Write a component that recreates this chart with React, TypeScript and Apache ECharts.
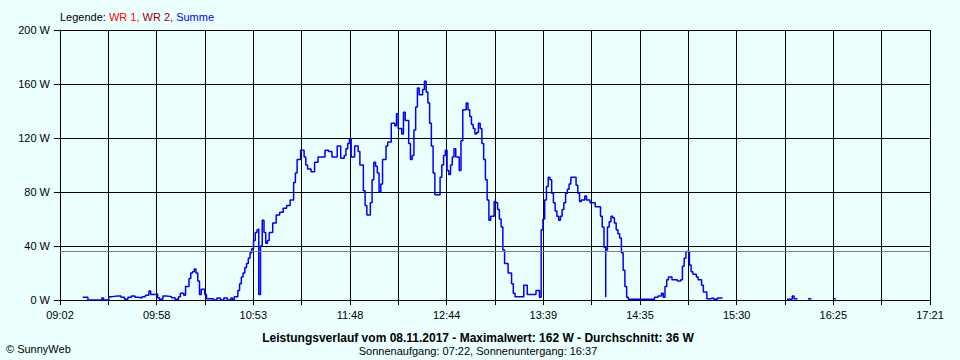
import React, { useEffect, useRef } from "react";
import * as echarts from "echarts";

// ---- data ----
const START_TIME = "09:02";
const END_TIME = "17:21";
const X_TICK_LABELS = ["09:02", "09:58", "10:53", "11:48", "12:44", "13:39", "14:35", "15:30", "16:25", "17:21"];
const Y_MIN = 0;
const Y_MAX = 200;
const Y_STEP = 40;
const AVERAGE_W = 36;
const MAX_W = 162;

const TIMES = [
  "09:15", "09:17", "09:18", "09:26", "09:26", "09:27", "09:29", "09:30", "09:32", "09:35",
  "09:37", "09:39", "09:41", "09:43", "09:45", "09:47", "09:49", "09:51", "09:53", "09:54",
  "09:56", "09:58", "09:59", "10:01", "10:03", "10:06", "10:08", "10:10", "10:11", "10:13",
  "10:14", "10:16", "10:17", "10:18", "10:19", "10:20", "10:21", "10:22", "10:23", "10:25",
  "10:26", "10:28", "10:30", "10:32", "10:34", "10:36", "10:38", "10:40", "10:41", "10:42",
  "10:44", "10:45", "10:46", "10:47", "10:48", "10:49", "10:50", "10:51", "10:52", "10:53",
  "10:54", "10:55", "10:56", "10:56", "10:57", "10:58", "10:59", "11:00", "11:01", "11:02",
  "11:04", "11:06", "11:08", "11:10", "11:12", "11:14", "11:16", "11:17", "11:18", "11:20",
  "11:22", "11:23", "11:24", "11:26", "11:28", "11:30", "11:32", "11:34", "11:36", "11:38",
  "11:41", "11:43", "11:45", "11:46", "11:47", "11:48", "11:49", "11:51", "11:53", "11:54",
  "11:56", "11:57", "11:58", "12:00", "12:01", "12:02", "12:03", "12:04", "12:05", "12:06",
  "12:07", "12:09", "12:10", "12:12", "12:14", "12:15", "12:16", "12:18", "12:19", "12:20",
  "12:22", "12:23", "12:24", "12:25", "12:26", "12:27", "12:28", "12:30", "12:31", "12:32",
  "12:33", "12:34", "12:35", "12:36", "12:37", "12:39", "12:40", "12:41", "12:42", "12:43",
  "12:44", "12:45", "12:46", "12:47", "12:48", "12:49", "12:51", "12:52", "12:53", "12:55",
  "12:56", "12:57", "12:58", "12:59", "13:00", "13:01", "13:02", "13:03", "13:04", "13:05",
  "13:06", "13:07", "13:08", "13:09", "13:11", "13:12", "13:13", "13:14", "13:15", "13:16",
  "13:17", "13:19", "13:21", "13:22", "13:23", "13:27", "13:28", "13:29", "13:30", "13:33",
  "13:35", "13:36", "13:37", "13:38", "13:39", "13:40", "13:41", "13:42", "13:43", "13:44",
  "13:45", "13:46", "13:47", "13:48", "13:49", "13:50", "13:51", "13:52", "13:53", "13:54",
  "13:55", "13:57", "13:58", "13:59", "14:00", "14:01", "14:03", "14:04", "14:06", "14:08",
  "14:09", "14:11", "14:12", "14:13", "14:14", "14:15", "14:15", "14:16", "14:17", "14:18",
  "14:19", "14:20", "14:21", "14:22", "14:23", "14:24", "14:25", "14:26", "14:27", "14:28",
  "14:42", "14:43", "14:45", "14:47", "14:48", "14:49", "14:50", "14:51", "14:53", "14:56",
  "14:58", "14:59", "15:00", "15:01", "15:02", "15:03", "15:04", "15:05", "15:07", "15:08",
  "15:10", "15:11", "15:13", "15:15", "15:17", "15:19", "15:22", "15:22",
  "15:59", "16:01", "16:02", "16:03", "16:05", "16:05",
  "16:11", "16:13", "16:13",
  "16:26", "16:27"
];

const WATTS: (number | null)[] = [
  2, 2, 0, 0, 1.5, 0, 0, 2.5, 3, 3,
  2, 0.5, 2, 3, 2, 1.5, 2.5, 3.5, 6.7, 4,
  4.5, 1.7, 0.5, 3, 2.5, 1.7, 0.5, 2.5, 5, 3.5,
  10, 16, 20, 21, 23, 20, 14, 4, 8, 4,
  1, 1, 0, 1.5, 0, 1.5, 0, 1.5, 0, 2.5,
  7, 12, 17, 20, 24, 27, 31, 35, 38, 44,
  50, 52, 53, 4, 40, 59, 50, 42, 44, 50,
  57, 63, 65, 68, 70, 74, 87, 94, 104, 111,
  106, 100, 97, 95, 102, 106, 106, 111, 110, 106,
  114, 105, 107, 112, 116, 119, 106, 114, 110, 100,
  81, 70, 63, 72, 89, 102, 99, 94, 80, 86,
  104, 114, 117, 131, 129, 138, 127, 123, 139, 133,
  116, 104, 107, 126, 143, 157, 152, 156, 162, 154,
  146, 131, 114, 94, 78, 78, 91, 100, 107, 111,
  96, 93, 100, 106, 112, 106, 96, 118, 141, 146,
  141, 136, 130, 127, 123, 124, 131, 127, 116, 104,
  89, 74, 59, 62, 73, 72, 67, 60, 54, 37,
  27, 20, 12, 5, 2.5, 2.5, 11, 11, 4, 4,
  7, 7, 2, 52, 60, 74, 84, 91, 89, 79,
  72, 66, 62, 59, 62, 67, 72, 79, 82, 86,
  91, 91, 85, 79, 73, 74, 77, 74, 72, 72,
  69, 69, 62, 54, 39, 2, 37, 54, 58, 62,
  61, 57, 52, 49, 46, 35, 22, 10, 2, 0.5,
  0.5, 2, 3, 5, 2, 10, 15, 17, 15, 14,
  15, 25, 31, 36, 36, 26, 21, 19, 17, 15,
  11, 6, 1, 1.5, 0.5, 1.5, 1, null,
  0.5, 0.5, 3, 1, 1, null,
  1, 1, null,
  1, 1
];

const GRID_DIVISIONS = 18;

const toMin = (t: string) => {
  const [h, m] = t.split(":").map(Number);
  return h * 60 + m;
};

export default function App() {
  const ref = useRef<HTMLDivElement>(null);

  useEffect(() => {
    document.body.style.margin = "0";
    if (!ref.current) return;
    const chart = echarts.init(ref.current, null, { renderer: "svg" });
    const t0 = toMin(START_TIME);
    const span = toMin(END_TIME) - t0;
    const data = TIMES.map((t, i) => [
      ((toMin(t) - t0) * GRID_DIVISIONS) / span,
      WATTS[i] === null ? "-" : WATTS[i],
    ]);
    const font = "'Liberation Sans', Arial, sans-serif";

    chart.setOption({
      animation: false,
      backgroundColor: "#EBFFFF",
      grid: { left: 60, right: 30, top: 30, bottom: 60, containLabel: false },
      xAxis: {
        type: "value",
        min: 0,
        max: GRID_DIVISIONS,
        interval: 1,
        axisLine: { show: true, lineStyle: { color: "#000", width: 1 } },
        axisTick: { show: true, length: 5, lineStyle: { color: "#000", width: 1 } },
        splitLine: { show: true, lineStyle: { color: "#000", width: 1 } },
        axisLabel: {
          color: "#000",
          fontSize: 11,
          fontFamily: font,
          margin: 9,
          showMinLabel: true,
          showMaxLabel: true,
          formatter: (v: number) => {
            const i = Math.round(v);
            return i % 2 === 0 ? X_TICK_LABELS[i / 2] : "";
          },
        },
      },
      yAxis: {
        type: "value",
        min: Y_MIN,
        max: Y_MAX,
        interval: Y_STEP,
        axisLine: { show: true, lineStyle: { color: "#000", width: 1 } },
        axisTick: { show: true, length: 6, lineStyle: { color: "#000", width: 1 } },
        splitLine: { show: true, lineStyle: { color: "#000", width: 1 } },
        axisLabel: {
          color: "#000",
          fontSize: 11,
          fontFamily: font,
          margin: 10,
          formatter: "{value} W",
        },
      },
      series: [
        {
          type: "line",
          name: "Summe",
          data,
          step: "end",
          showSymbol: false,
          symbol: "none",
          connectNulls: false,
          lineStyle: { color: "#0000FF", width: 1.5 },
          markLine: {
            silent: true,
            symbol: "none",
            label: { show: false },
            lineStyle: { color: "#808080", type: "solid", width: 1.2 },
            data: [{ yAxis: AVERAGE_W }],
          },
          z: 3,
        },
      ],
      graphic: [
        {
          type: "text",
          left: 60,
          top: 11,
          style: {
            text: "{a|Legende: }{b|WR 1, }{c|WR 2, }{d|Summe}",
            rich: {
              a: { fill: "#000", fontSize: 11, fontFamily: font },
              b: { fill: "#FF0000", fontSize: 11, fontFamily: font },
              c: { fill: "#990000", fontSize: 11, fontFamily: font },
              d: { fill: "#0000FF", fontSize: 11, fontFamily: font },
            },
          },
        },
        {
          type: "text",
          x: 478,
          y: 338,
          style: {
            text: `Leistungsverlauf vom 08.11.2017 - Maximalwert: ${MAX_W} W - Durchschnitt: ${AVERAGE_W} W`,
            fill: "#000",
            fontSize: 12,
            fontWeight: "bold",
            fontFamily: font,
            align: "center",
            verticalAlign: "middle",
          },
        },
        {
          type: "text",
          x: 478,
          y: 351,
          style: {
            text: "Sonnenaufgang: 07:22, Sonnenuntergang: 16:37",
            fill: "#000",
            fontSize: 11,
            fontFamily: font,
            align: "center",
            verticalAlign: "middle",
          },
        },
        {
          type: "text",
          x: 6,
          y: 349,
          style: {
            text: "© SunnyWeb",
            fill: "#000",
            fontSize: 11,
            fontFamily: font,
            align: "left",
            verticalAlign: "middle",
          },
        },
      ],
    });
    return () => chart.dispose();
  }, []);

  return <div ref={ref} style={{ width: 960, height: 360 }} />;
}
